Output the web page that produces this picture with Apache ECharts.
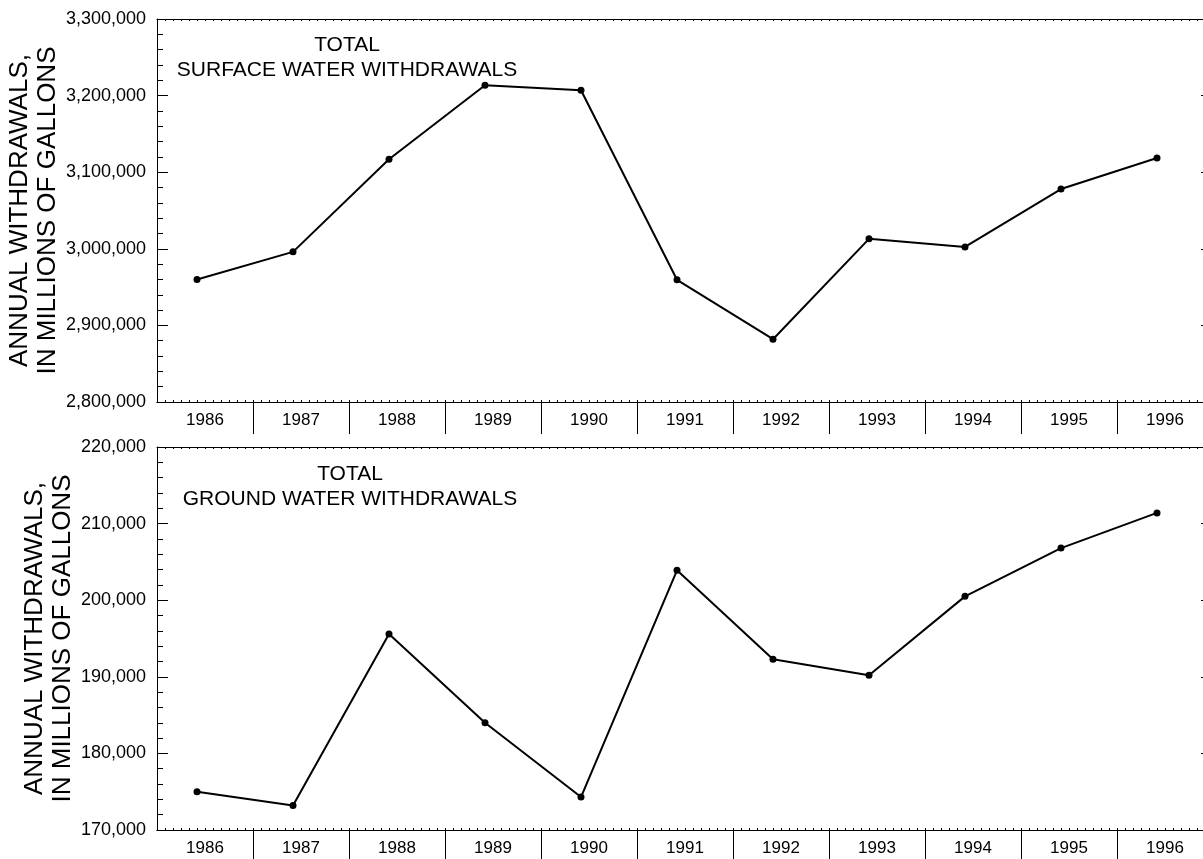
<!DOCTYPE html>
<html>
<head>
<meta charset="utf-8">
<script src="https://cdn.jsdelivr.net/npm/echarts@6/dist/echarts.min.js"></script>
<style>
html,body{margin:0;padding:0;background:#ffffff;}
#chart{width:1203px;height:859px;}
</style>
</head>
<body>
<div id="chart"></div>
<script>
// ---- data ----
const years = ['1986','1987','1988','1989','1990','1991','1992','1993','1994','1995','1996'];
const surfaceWithdrawals = [2960000, 2996000, 3117000, 3213500, 3207000, 2959500, 2882000, 3013000, 3002500, 3078000, 3118500];
const groundWithdrawals  = [175000, 173200, 195600, 184000, 174300, 203900, 192300, 190200, 200500, 206800, 211400];
const surfaceTicks = [2800000, 2900000, 3000000, 3100000, 3200000, 3300000];
const groundTicks  = [170000, 180000, 190000, 200000, 210000, 220000];
const yTitle = 'ANNUAL WITHDRAWALS,\nIN MILLIONS OF GALLONS';
const surfaceTitle = 'TOTAL\nSURFACE WATER WITHDRAWALS';
const groundTitle = 'TOTAL\nGROUND WATER WITHDRAWALS';

// ---- chart ----
const FONT = '"Liberation Sans", Arial, sans-serif';
const BLACK = '#000000';
const chart = echarts.init(document.getElementById('chart'), null, {renderer: 'canvas'});

function catAxis(gi) {
  return {
    type: 'category', gridIndex: gi, position: 'bottom', data: years, boundaryGap: true,
    axisLine: {show: true, onZero: false, lineStyle: {color: BLACK, width: 1}},
    axisTick: {show: true, length: 32, inside: false, interval: function (i) { return i > 0; },
               lineStyle: {color: BLACK, width: 1}},
    axisLabel: {show: true, color: BLACK, fontSize: 17, fontFamily: FONT, margin: 10, interval: 0},
    splitLine: {show: false}
  };
}
function monthAxis(gi, pos) {
  // value axis in months relative to the first year
  return {
    type: 'value', gridIndex: gi, position: pos, min: -5, max: 127, interval: 1,
    axisLine: {show: true, onZero: false, lineStyle: {color: BLACK, width: 1}},
    axisTick: {show: true, inside: true, length: 2, lineStyle: {color: BLACK, width: 1}},
    axisLabel: {show: false}, splitLine: {show: false}
  };
}
function leftAxis(gi, ticks, gap) {
  return {
    type: 'value', gridIndex: gi, position: 'left',
    min: ticks[0], max: ticks[ticks.length - 1], interval: ticks[1] - ticks[0],
    axisLine: {show: true, onZero: false, lineStyle: {color: BLACK, width: 1}},
    axisTick: {show: true, inside: true, length: 11, lineStyle: {color: BLACK, width: 1}},
    minorTick: {show: true, splitNumber: 5, length: 6, lineStyle: {color: BLACK, width: 1}},
    axisLabel: {show: true, color: BLACK, fontSize: 18, fontFamily: FONT, margin: 11,
                formatter: function (v) { return v.toLocaleString('en-US'); }},
    splitLine: {show: false}, minorSplitLine: {show: false},
    name: yTitle, nameLocation: 'middle', nameRotate: 90, nameGap: gap, nameMoveOverlap: false,
    nameTextStyle: {color: BLACK, fontSize: 26, fontFamily: FONT, lineHeight: 28}
  };
}
function rightAxis(gi, ticks) {
  return {
    type: 'value', gridIndex: gi, position: 'right',
    min: ticks[0], max: ticks[ticks.length - 1], interval: ticks[1] - ticks[0],
    axisLine: {show: true, onZero: false, lineStyle: {color: BLACK, width: 1}},
    axisTick: {show: true, inside: true, length: 12, lineStyle: {color: BLACK, width: 1}},
    axisLabel: {show: false}, splitLine: {show: false}
  };
}
function hiddenY(gi) {
  return {type: 'value', gridIndex: gi, show: false, min: 0, max: 1};
}
function lineSeries(xi, yi, values) {
  return {
    type: 'line', xAxisIndex: xi, yAxisIndex: yi,
    data: values.map(function (v, i) { return [(Number(years[i]) - Number(years[0])) * 12, v]; }),
    symbol: 'circle', symbolSize: 7, showSymbol: true,
    lineStyle: {color: BLACK, width: 2}, itemStyle: {color: BLACK},
    animation: false, silent: true
  };
}

const gridBase = {left: 157, right: -10, height: 383, containLabel: false, outerBoundsMode: 'none'};
const option = {
  backgroundColor: '#ffffff',
  animation: false,
  grid: [
    Object.assign({top: 19}, gridBase),
    Object.assign({top: 447}, gridBase),
    Object.assign({top: 19}, gridBase),
    Object.assign({top: 447}, gridBase)
  ],
  xAxis: [catAxis(0), monthAxis(0, 'top'), catAxis(1), monthAxis(1, 'top'),
          monthAxis(2, 'bottom'), monthAxis(3, 'bottom')],
  yAxis: [leftAxis(0, surfaceTicks, 95), rightAxis(0, surfaceTicks), leftAxis(1, groundTicks, 80), rightAxis(1, groundTicks),
          hiddenY(2), hiddenY(3)],
  graphic: [
    {type: 'text', x: 347, y: 32, silent: true,
     style: {text: surfaceTitle, font: '21px ' + FONT, fill: BLACK, align: 'center', textAlign: 'center',
             verticalAlign: 'top', textVerticalAlign: 'top', lineHeight: 25.5}},
    {type: 'text', x: 350, y: 461, silent: true,
     style: {text: groundTitle, font: '21px ' + FONT, fill: BLACK, align: 'center', textAlign: 'center',
             verticalAlign: 'top', textVerticalAlign: 'top', lineHeight: 25.5}}
  ],
  series: [lineSeries(1, 0, surfaceWithdrawals), lineSeries(3, 2, groundWithdrawals)]
};
chart.setOption(option);
</script>
</body>
</html>
